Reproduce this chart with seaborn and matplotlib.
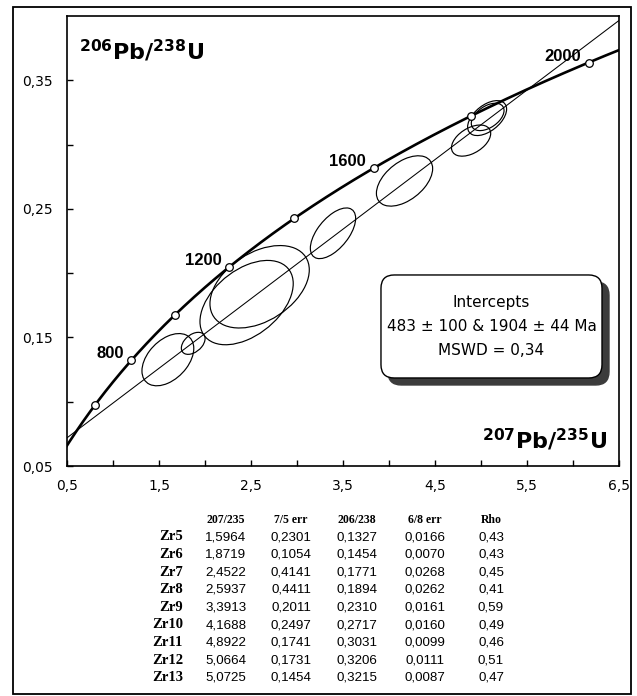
import numpy as np
import pandas as pd
import matplotlib
matplotlib.use("Agg")
import matplotlib.pyplot as plt
import matplotlib.transforms as mtransforms
from matplotlib.patches import Ellipse, FancyBboxPatch, Rectangle
import seaborn as sns

# ---------------- data ----------------
samples = ["Zr5", "Zr6", "Zr7", "Zr8", "Zr9", "Zr10", "Zr11", "Zr12", "Zr13"]
pb207_u235 = [1.5964, 1.8719, 2.4522, 2.5937, 3.3913, 4.1688, 4.8922, 5.0664, 5.0725]
err_75 = [0.2301, 0.1054, 0.4141, 0.4411, 0.2011, 0.2497, 0.1741, 0.1731, 0.1454]
pb206_u238 = [0.1327, 0.1454, 0.1771, 0.1894, 0.2310, 0.2717, 0.3031, 0.3206, 0.3215]
err_68 = [0.0166, 0.0070, 0.0268, 0.0262, 0.0161, 0.0160, 0.0099, 0.0111, 0.0087]
rho = [0.43, 0.43, 0.45, 0.41, 0.59, 0.49, 0.46, 0.51, 0.47]

marker_ages = [600, 800, 1000, 1200, 1400, 1600, 1800, 2000]
label_ages = [800, 1200, 1600, 2000]
intercept_ages = [483, 1904]
box_lines = ["Intercepts", "483 \u00b1 100 & 1904 \u00b1 44 Ma", "MSWD = 0,34"]
table_headers = ["207/235", "7/5 err", "206/238", "6/8 err", "Rho"]

x_tick_values = [0.5, 1.5, 2.5, 3.5, 4.5, 5.5, 6.5]
x_tick_labels = ["0,5", "1,5", "2,5", "3,5", "4,5", "5,5", "6,5"]
x_minor_values = [1.0, 2.0, 3.0, 4.0, 5.0, 6.0]
y_tick_values = [0.05, 0.15, 0.25, 0.35]
y_tick_labels = ["0,05", "0,15", "0,25", "0,35"]
y_minor_values = [0.10, 0.20, 0.30]

LAMBDA_238 = 1.55125e-10
LAMBDA_235 = 9.8485e-10
CONF_SCALE = np.sqrt(5.991)  # 95% confidence, 2 degrees of freedom


def concordia(age_ma):
    t = np.asarray(age_ma, dtype=float) * 1e6
    return np.exp(LAMBDA_235 * t) - 1.0, np.exp(LAMBDA_238 * t) - 1.0


# ---------------- style ----------------
sns.set_theme(style="white")
plt.rcParams["font.family"] = ["DejaVu Sans"]
plt.rcParams["mathtext.fontset"] = "dejavusans"
plt.rcParams["text.color"] = "black"
plt.rcParams["axes.labelcolor"] = "black"
plt.rcParams["xtick.color"] = "black"
plt.rcParams["ytick.color"] = "black"

W, H = 637, 696
fig = plt.figure(figsize=(W / 100, H / 100), dpi=100)
fig.patch.set_facecolor("white")

ax = fig.add_axes([67 / W, 1 - 466 / H, 552 / W, 450 / H])
ax.set_facecolor("white")
ax.set_xlim(0.5, 6.5)
ax.set_ylim(0.05, 0.40)

# concordia curve
curve_ages = np.linspace(380, 2100, 600)
cx, cy = concordia(curve_ages)
curve_df = pd.DataFrame({"x": cx, "y": cy})
sns.lineplot(data=curve_df, x="x", y="y", ax=ax, color="black", lw=1.9,
             sort=False, estimator=None, zorder=4)

# discordia through intercepts
ix, iy = concordia(intercept_ages)
ax.axline((ix[0], iy[0]), (ix[1], iy[1]), color="black", lw=0.75, zorder=3)

# error ellipses
for x0, sx2, y0, sy2, r in zip(pb207_u235, err_75, pb206_u238, err_68, rho):
    sx, sy = sx2 / 2.0, sy2 / 2.0
    cov = np.array([[sx * sx, r * sx * sy], [r * sx * sy, sy * sy]])
    vals, vecs = np.linalg.eigh(cov)
    order = vals.argsort()[::-1]
    vals, vecs = vals[order], vecs[:, order]
    angle = np.degrees(np.arctan2(vecs[1, 0], vecs[0, 0]))
    ell = Ellipse((x0, y0), width=2 * CONF_SCALE * np.sqrt(vals[0]),
                  height=2 * CONF_SCALE * np.sqrt(vals[1]), angle=angle,
                  facecolor="none", edgecolor="black", lw=0.85, zorder=3)
    ax.add_patch(ell)

# age markers
mx, my = concordia(marker_ages)
marker_df = pd.DataFrame({"x": mx, "y": my})
sns.scatterplot(data=marker_df, x="x", y="y", ax=ax, s=30, color="white",
                edgecolor="black", linewidth=0.9, zorder=5)

lx, ly = concordia(label_ages)
for age, x0, y0 in zip(label_ages, lx, ly):
    ax.annotate(str(age), (x0, y0), xytext=(-5.5, 1.5), textcoords="offset points",
                ha="right", va="baseline", fontsize=12, fontweight="bold",
                family="Liberation Sans", color="black", zorder=6)

# axis titles inside
ax.text(0.022, 0.902, r"$^{\mathbf{206}}\mathbf{Pb/}^{\mathbf{238}}\mathbf{U}$",
        transform=ax.transAxes, ha="left", va="baseline", fontsize=16, color="black")
ax.text(0.978, 0.038, r"$^{\mathbf{207}}\mathbf{Pb/}^{\mathbf{235}}\mathbf{U}$",
        transform=ax.transAxes, ha="right", va="baseline", fontsize=16, color="black")

# intercept box with shadow
bx0, by0, bw, bh = 0.5688, 0.1956, 0.4004, 0.2289
shadow_tr = mtransforms.offset_copy(ax.transAxes, fig=fig, x=7, y=-7, units="dots")
style = "round,pad=0,rounding_size=0.024"
shadow = FancyBboxPatch((bx0, by0), bw, bh, boxstyle=style, mutation_aspect=552 / 450,
                        transform=shadow_tr, facecolor="#3c3c3c", edgecolor="#3c3c3c",
                        lw=1, zorder=7)
box = FancyBboxPatch((bx0, by0), bw, bh, boxstyle=style, mutation_aspect=552 / 450,
                     transform=ax.transAxes, facecolor="white", edgecolor="black",
                     lw=1.0, zorder=8)
ax.add_patch(shadow)
ax.add_patch(box)
for line, yy in zip(box_lines, [0.364, 0.309, 0.256]):
    ax.text(bx0 + bw / 2, yy, line, transform=ax.transAxes, ha="center", va="center",
            fontsize=11, color="black", zorder=9)

# ticks
ax.set_xticks(x_tick_values)
ax.set_xticklabels(x_tick_labels)
ax.set_xticks(x_minor_values, minor=True)
ax.set_yticks(y_tick_values)
ax.set_yticklabels(y_tick_labels)
ax.set_yticks(y_minor_values, minor=True)
ax.tick_params(axis="both", which="both", direction="in", length=4, width=1.0,
               color="black", labelsize=10, labelcolor="black")
ax.tick_params(axis="x", which="both", bottom=True, top=False, pad=9)
ax.tick_params(axis="y", which="both", left=True, right=False, pad=10)
for sp in ax.spines.values():
    sp.set_color("black")
    sp.set_linewidth(1.2)
ax.set_xlabel("")
ax.set_ylabel("")
ax.grid(False)

# outer frame
fig.add_artist(Rectangle((13 / W, 1 - 694 / H), (631 - 13) / W, (694 - 7) / H,
                         transform=fig.transFigure, facecolor="none",
                         edgecolor="black", lw=1.3))

# data table
col_x = [226, 291, 357, 425, 491]
header_y = 520
row_y0, row_dy = 537, 17.6
for cxp, head in zip(col_x, table_headers):
    fig.text(cxp / W, 1 - header_y / H, head, ha="center", va="center",
             family="Liberation Serif", fontweight="bold", fontsize=8.5, color="black")


def fmt(v, nd):
    return f"{v:.{nd}f}".replace(".", ",")


for i, name in enumerate(samples):
    yy = 1 - (row_y0 + i * row_dy) / H
    fig.text(183 / W, yy, name, ha="right", va="center", family="Liberation Serif",
             fontweight="bold", fontsize=10.5, color="black")
    vals = [fmt(pb207_u235[i], 4), fmt(err_75[i], 4), fmt(pb206_u238[i], 4),
            fmt(err_68[i], 4), fmt(rho[i], 2)]
    for cxp, v in zip(col_x, vals):
        fig.text(cxp / W, yy, v, ha="center", va="center", family="Liberation Sans",
                 fontsize=9.6, color="black")

fig.savefig("out.png", dpi=100, facecolor="white")
